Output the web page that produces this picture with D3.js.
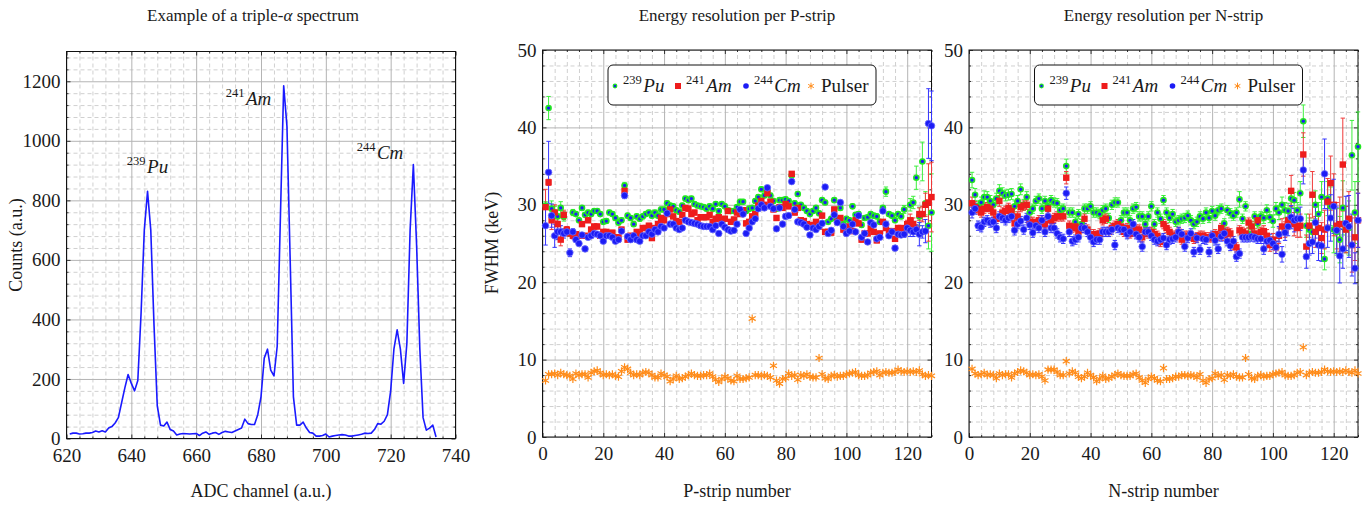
<!DOCTYPE html>
<html>
<head>
<meta charset="utf-8">
<script src="https://cdn.jsdelivr.net/npm/d3@7"></script>
<style>
body { margin: 0; background: #fff; }
text { font-family: "Liberation Serif", "DejaVu Serif", serif; fill: #1a1a1a; }
.minor-grid line { stroke: #d0d0d0; stroke-dasharray: 4,3; }
.major-grid line { stroke: #b4b4b4; }
.ticks line { stroke: #333; }
</style>
</head>
<body>
<script>
// ---- triple alpha spectrum ----
const channels = d3.range(621, 735)
const counts = [
  15, 18, 18, 15, 16, 18, 18, 20, 25, 22, 26, 22,
  35, 40, 52, 70, 120, 170, 215, 185, 160, 195, 420, 700, 830, 700, 380, 110,
  45, 42, 55, 30, 25, 12, 15, 17, 16, 15, 16, 17, 10, 18, 22, 14, 18, 20, 14, 20,
  24, 22, 20, 25, 30, 35, 65, 50, 47, 47, 80, 140, 270, 300, 230, 210, 310, 750,
  1185, 1050, 600, 140, 45, 45, 55, 35, 20, 18, 8, 8, 10, 15, 5, 8, 10, 12,
  13, 12, 8, 8, 10, 12, 14, 18, 17, 18, 30, 50, 48, 58, 80, 160, 300, 365,
  300, 185, 320, 700, 920, 650, 300, 70, 28, 35, 45, 5, 0, 0
]
const peakLabels = [
  { iso: "239", el: "Pu", ch: 638.6, c: 892 },
  { iso: "241", el: "Am", ch: 669.1, c: 1121 },
  { iso: "244", el: "Cm", ch: 709.5, c: 940 }
]

// ---- P-strip resolution (keV), strips 1..128 ----
const strips = d3.range(1, 129)
const puP = [
  29.9, 42.5, 29.5, 29.0, 28.5, 29.6, 28.5, 26.5, 26.3, 29.0,
  28.8, 28.0, 29.6, 28.7, 29.0, 28.8, 29.2, 29.2, 28.8, 27.8,
  27.9, 29.0, 28.8, 28.3, 27.7, 28.0, 32.5, 28.6, 28.3, 27.5,
  28.5, 28.2, 28.5, 28.8, 29.0, 28.6, 29.0, 28.6, 29.4, 29.4,
  30.2, 29.9, 29.8, 29.3, 29.1, 29.9, 30.8, 30.6, 30.8, 30.1,
  29.9, 29.8, 29.7, 29.5, 29.8, 29.5, 30.1, 29.2, 30.1, 29.8,
  29.3, 29.2, 29.2, 29.7, 30.4, 30.4, 29.2, 29.5, 29.6, 30.5,
  31.0, 32.0, 31.2, 31.8, 31.2, 30.5, 29.5, 30.6, 30.6, 30.7,
  30.5, 33.8, 30.2, 31.4, 30.0, 29.6, 29.2, 28.8, 29.2, 29.6,
  28.9, 30.6, 30.3, 27.8, 28.2, 30.6, 28.1, 29.6, 27.5, 28.2,
  28.0, 29.8, 28.7, 28.8, 27.4, 28.3, 28.4, 28.8, 28.6, 28.5,
  27.8, 29.6, 31.7, 28.8, 28.6, 28.0, 28.8, 28.5, 29.4, 27.2,
  30.0, 30.3, 33.5, 28.5, 35.6, 30.2, 27.3, 29.0
]
const amP = [
  29.7, 32.9, 28.0, 29.0, 27.5, 25.5, 28.7, 26.8, 26.3, 26.0,
  26.2, 26.0, 27.5, 26.0, 28.0, 26.8, 27.2, 27.2, 26.0, 26.5,
  26.5, 26.3, 26.4, 25.8, 25.8, 26.8, 31.8, 25.5, 26.0, 25.9,
  26.5, 26.2, 27.0, 27.0, 27.3, 25.7, 27.0, 27.5, 28.3, 28.0,
  28.8, 29.4, 28.5, 27.9, 27.8, 28.7, 29.6, 29.5, 28.8, 29.0,
  28.0, 28.4, 28.4, 28.4, 28.7, 27.8, 28.2, 28.4, 28.0, 28.2,
  29.2, 27.8, 28.1, 29.0, 28.8, 29.3, 27.6, 27.8, 28.5, 28.8,
  29.9, 30.5, 30.0, 31.5, 30.4, 29.4, 28.3, 29.7, 29.6, 30.1,
  29.8, 34.0, 29.0, 29.6, 28.0, 27.9, 27.5, 27.2, 27.4, 27.8,
  27.2, 28.6, 26.5, 26.5, 26.4, 29.4, 27.8, 28.3, 26.8, 26.6,
  27.2, 26.6, 28.0, 27.6, 25.5, 26.3, 26.3, 27.0, 26.5, 25.4,
  26.3, 27.8, 27.0, 26.6, 26.6, 25.6, 27.0, 27.0, 26.6, 27.5,
  28.0, 27.5, 26.8, 28.8, 28.8, 30.0, 30.3, 31.0
]
const cmP = [
  27.3, 34.2, 28.6, 26.0, 26.5, 26.5, 26.3, 26.5, 23.8, 26.5,
  25.5, 25.0, 26.1, 24.3, 25.8, 26.0, 26.3, 26.2, 26.0, 25.3,
  26.0, 26.0, 25.8, 25.3, 25.5, 26.6, 31.2, 25.9, 25.5, 26.0,
  25.5, 25.3, 26.0, 26.0, 26.5, 26.2, 26.8, 26.5, 27.2, 27.0,
  28.9, 27.5, 27.5, 27.0, 26.8, 27.0, 28.0, 27.8, 27.7, 27.6,
  27.5, 27.3, 27.2, 27.2, 27.2, 26.8, 27.3, 26.3, 27.5, 27.1,
  26.8, 26.6, 26.7, 27.5, 29.4, 28.8, 26.3, 27.0, 27.8, 28.2,
  29.5, 30.0, 29.6, 32.2, 29.8, 29.5, 26.9, 29.6, 27.5, 28.5,
  28.6, 33.0, 29.4, 27.8, 27.7, 27.5, 27.1, 26.1, 27.0, 26.8,
  27.2, 27.6, 32.3, 26.3, 26.7, 28.7, 27.7, 30.3, 27.2, 26.3,
  26.6, 27.5, 26.5, 28.6, 25.8, 26.3, 25.2, 27.7, 27.4, 25.6,
  25.8, 29.2, 27.5, 26.0, 26.5, 24.4, 26.2, 26.1, 26.2, 27.0,
  26.7, 26.5, 26.8, 26.2, 26.5, 26.6, 40.5, 40.2
]
const pulP = [
  7.3, 8.1, 8.1, 8.2, 8.0, 8.3, 8.1, 8.0, 7.9, 7.5,
  8.2, 8.0, 8.1, 8.1, 7.7, 8.3, 8.5, 8.6, 8.3, 8.0,
  8.1, 8.0, 8.1, 7.9, 7.8, 8.5, 9.0, 8.8, 8.3, 8.0,
  8.1, 8.0, 8.3, 8.4, 8.3, 8.0, 7.7, 7.7, 8.2, 8.0,
  7.8, 7.2, 7.5, 7.9, 7.5, 7.6, 7.8, 8.0, 8.2, 8.0,
  7.9, 7.9, 8.0, 8.0, 8.2, 7.8, 7.4, 7.1, 7.5, 7.8,
  7.6, 7.3, 7.2, 7.9, 7.5, 7.5, 7.6, 7.7, 15.3, 8.0,
  8.0, 7.9, 8.0, 7.9, 7.7, 9.2, 7.3, 6.9, 7.5, 7.6,
  8.2, 7.9, 8.0, 7.4, 8.0, 7.9, 8.1, 7.8, 7.7, 7.7,
  10.2, 8.1, 7.6, 7.5, 7.9, 8.0, 7.8, 7.9, 7.9, 8.1,
  8.2, 8.3, 8.4, 8.0, 7.9, 7.9, 8.0, 8.3, 8.4, 8.5,
  8.0, 8.3, 8.4, 8.3, 8.3, 8.4, 8.7, 8.5, 8.4, 8.5,
  8.4, 8.5, 8.4, 8.6, 8.1, 7.9, 8.0, 7.9
]
const errPuP = [
  0.5, 1.5, 1.0, 0.8, 0.8, 0.8, 0.6, 0.4, 0.4, 0.4, 0.3, 0.3, 0.3, 0.3, 0.3, 0.3,
  0.3, 0.3, 0.3, 0.3, 0.3, 0.3, 0.3, 0.3, 0.3, 0.3, 0.4, 0.3, 0.3, 0.3, 0.3, 0.3,
  0.3, 0.3, 0.3, 0.3, 0.3, 0.3, 0.3, 0.3, 0.3, 0.3, 0.3, 0.3, 0.3, 0.3, 0.3, 0.3,
  0.3, 0.3, 0.3, 0.3, 0.3, 0.3, 0.3, 0.3, 0.3, 0.3, 0.3, 0.3, 0.3, 0.3, 0.3, 0.3,
  0.3, 0.3, 0.3, 0.3, 0.3, 0.3, 0.3, 0.3, 0.3, 0.3, 0.3, 0.3, 0.3, 0.3, 0.3, 0.3,
  0.3, 0.3, 0.3, 0.3, 0.3, 0.3, 0.3, 0.3, 0.3, 0.3, 0.3, 0.3, 0.3, 0.3, 0.3, 0.3,
  0.3, 0.3, 0.3, 0.3, 0.3, 0.3, 0.3, 0.3, 0.3, 0.3, 0.3, 0.3, 0.3, 0.3, 0.3, 0.3,
  0.6, 0.3, 0.3, 0.3, 0.3, 0.3, 0.5, 0.6, 0.8, 0.8, 1.5, 1.2, 2.5, 1.5, 3.0, 5.0
]
const errAmP = [
  2.3, 0.4, 1.2, 1.0, 0.8, 0.8, 0.6, 0.4, 0.4, 0.4, 0.3, 0.3, 0.3, 0.3, 0.3, 0.3,
  0.3, 0.3, 0.3, 0.3, 0.3, 0.3, 0.3, 0.3, 0.3, 0.3, 0.4, 0.3, 0.3, 0.3, 0.3, 0.3,
  0.3, 0.3, 0.3, 0.3, 0.3, 0.3, 0.3, 0.3, 0.3, 0.3, 0.3, 0.3, 0.3, 0.3, 0.3, 0.3,
  0.3, 0.3, 0.3, 0.3, 0.3, 0.3, 0.3, 0.3, 0.3, 0.3, 0.3, 0.3, 0.3, 0.3, 0.3, 0.3,
  0.3, 0.3, 0.3, 0.3, 0.3, 0.3, 0.3, 0.3, 0.3, 0.3, 0.3, 0.3, 0.3, 0.3, 0.3, 0.3,
  0.3, 0.3, 0.3, 0.3, 0.3, 0.3, 0.3, 0.3, 0.3, 0.3, 0.3, 0.3, 0.3, 0.3, 0.3, 0.3,
  0.3, 0.3, 0.3, 0.3, 0.3, 0.3, 0.3, 0.3, 0.3, 0.3, 0.3, 0.3, 0.3, 0.3, 0.3, 0.3,
  0.3, 0.3, 0.3, 0.3, 0.3, 0.3, 0.4, 0.5, 0.8, 0.8, 0.6, 0.8, 1.0, 1.5, 5.0, 4.5
]
const errCmP = [
  2.5, 4.0, 1.5, 1.5, 1.0, 0.8, 0.6, 0.5, 0.5, 0.4, 0.3, 0.3, 0.3, 0.3, 0.3, 0.3,
  0.3, 0.3, 0.3, 0.3, 0.3, 0.3, 0.3, 0.3, 0.3, 0.3, 0.4, 0.3, 0.3, 0.3, 0.3, 0.3,
  0.3, 0.3, 0.3, 0.3, 0.3, 0.3, 0.3, 0.3, 0.3, 0.3, 0.3, 0.3, 0.3, 0.3, 0.3, 0.3,
  0.3, 0.3, 0.3, 0.3, 0.3, 0.3, 0.3, 0.3, 0.3, 0.3, 0.3, 0.3, 0.3, 0.3, 0.3, 0.3,
  0.3, 0.3, 0.3, 0.3, 0.3, 0.3, 0.3, 0.3, 0.3, 0.3, 0.3, 0.3, 0.3, 0.3, 0.3, 0.3,
  0.3, 0.3, 0.3, 0.3, 0.3, 0.3, 0.3, 0.3, 0.3, 0.3, 0.3, 0.3, 0.3, 0.3, 0.3, 0.3,
  0.3, 0.3, 0.3, 0.3, 0.3, 0.3, 0.3, 0.3, 0.3, 0.3, 0.3, 0.3, 0.3, 0.3, 0.3, 0.3,
  0.3, 0.3, 0.3, 0.3, 0.3, 0.3, 0.4, 0.5, 0.8, 0.6, 0.6, 1.5, 0.8, 1.5, 4.5, 4.5
]

// ---- N-strip resolution (keV) ----
const puN = [
  33.2, 31.3, 29.8, 30.3, 31.0, 31.0, 30.5, 30.0, 30.8, 31.8,
  31.5, 31.2, 31.3, 31.4, 29.8, 30.5, 32.0, 30.0, 31.0, 29.0,
  29.5, 30.5, 30.8, 29.5, 30.5, 29.8, 30.6, 30.3, 30.2, 29.3,
  29.5, 35.0, 29.0, 29.0, 27.8, 28.8, 27.5, 29.5, 29.5, 29.8,
  29.0, 29.0, 28.8, 29.3, 29.5, 28.3, 30.0, 30.3, 30.3, 28.0,
  29.0, 29.0, 28.0, 29.5, 29.7, 28.5, 28.5, 27.5, 28.5, 29.8,
  27.5, 29.0, 28.2, 30.6, 29.0, 28.3, 28.8, 27.8, 28.0, 28.2,
  28.3, 28.6, 28.0, 27.5, 27.8, 28.5, 28.2, 29.0, 28.3, 29.2,
  28.6, 29.3, 29.5, 27.6, 29.3, 28.9, 28.6, 29.0, 30.7, 28.2,
  29.8, 26.2, 27.2, 28.5, 27.6, 28.5, 28.3, 29.3, 28.4, 27.9,
  29.5, 29.0, 30.0, 29.3, 29.2, 30.8, 30.6, 29.3, 31.5, 40.8,
  27.3, 26.8, 26.5, 30.0, 28.8, 31.0, 23.0, 30.8, 29.8, 26.8,
  26.5, 25.5, 29.6, 26.8, 27.0, 36.4, 29.0, 37.5
]
const amN = [
  30.2, 29.7, 29.4, 29.0, 29.5, 29.7, 29.5, 29.0, 28.2, 30.5,
  29.0, 29.2, 29.6, 29.2, 27.6, 28.5, 29.7, 29.9, 30.0, 27.8,
  27.8, 27.5, 28.0, 28.0, 27.5, 29.5, 28.0, 28.3, 28.5, 28.5,
  28.5, 33.5, 27.3, 27.0, 27.2, 26.5, 27.0, 28.2, 26.8, 26.2,
  26.2, 26.0, 26.3, 28.0, 28.2, 26.5, 27.0, 27.3, 27.5, 27.2,
  26.5, 27.0, 26.3, 26.5, 26.8, 26.8, 25.8, 26.5, 26.3, 26.5,
  26.2, 26.0, 25.2, 27.5, 27.0, 26.5, 26.0, 26.0, 26.5, 25.5,
  26.0, 26.0, 26.0, 25.6, 25.8, 26.0, 26.0, 25.8, 25.8, 25.8,
  26.2, 26.0, 27.0, 26.0, 26.5, 26.3, 24.8, 24.5, 26.7, 26.5,
  26.3, 27.7, 27.2, 26.3, 28.0, 26.5, 26.6, 26.0, 24.8, 25.5,
  24.5, 26.0, 27.2, 26.8, 28.0, 31.8, 27.5, 27.0, 27.3, 36.5,
  24.6, 27.3, 31.3, 26.5, 27.0, 25.7, 26.8, 30.4, 32.8, 30.0,
  27.3, 27.5, 35.2, 26.8, 28.2, 24.8, 25.8, 28.0
]
const cmN = [
  29.0, 29.5, 27.3, 27.1, 27.8, 28.0, 27.7, 27.8, 27.0, 28.5,
  28.3, 28.0, 28.3, 28.5, 26.7, 27.5, 27.9, 26.8, 28.3, 27.4,
  26.4, 27.3, 27.0, 28.0, 26.5, 28.5, 27.0, 27.0, 26.3, 25.8,
  25.6, 31.5, 26.5, 25.3, 25.5, 25.8, 27.0, 27.0, 26.5, 25.8,
  25.2, 25.5, 25.5, 26.5, 26.5, 26.5, 26.8, 24.8, 27.0, 26.8,
  26.8, 26.2, 26.5, 27.5, 26.2, 25.8, 24.6, 26.5, 26.5, 26.0,
  25.5, 25.3, 25.5, 25.7, 24.8, 25.5, 25.6, 25.8, 26.5, 26.2,
  24.6, 25.7, 26.3, 23.9, 25.7, 24.2, 25.6, 25.5, 23.9, 26.0,
  25.4, 24.3, 25.9, 26.3, 25.3, 24.7, 25.3, 23.3, 23.7, 25.8,
  25.8, 25.8, 25.9, 25.8, 25.6, 25.6, 24.3, 25.3, 25.4, 25.0,
  24.5, 26.2, 23.6, 26.4, 27.2, 28.4, 28.0, 28.2, 28.2, 34.5,
  23.3, 25.0, 25.2, 27.7, 24.8, 24.7, 34.0, 27.0, 28.3, 29.8,
  26.7, 23.4, 24.3, 27.6, 27.2, 24.8, 21.8, 28.0
]
const pulN = [
  8.8, 8.2, 8.0, 8.1, 8.3, 8.0, 8.1, 8.0, 7.6, 8.2,
  8.0, 8.1, 8.1, 7.7, 8.2, 8.4, 8.6, 8.5, 8.3, 8.0,
  8.1, 8.0, 8.1, 7.8, 7.3, 8.7, 8.7, 8.7, 8.4, 8.0,
  8.0, 9.8, 8.2, 8.5, 8.3, 7.8, 7.6, 7.8, 8.3, 8.0,
  7.7, 7.2, 7.5, 7.9, 7.5, 7.6, 7.8, 8.0, 8.2, 8.0,
  7.9, 7.9, 7.9, 8.1, 8.2, 7.7, 7.3, 7.0, 7.5, 7.8,
  7.6, 7.3, 7.2, 8.9, 7.5, 7.5, 7.6, 7.8, 7.8, 8.0,
  8.0, 7.9, 8.0, 7.9, 7.7, 8.1, 7.3, 7.0, 7.5, 7.6,
  8.2, 7.9, 8.0, 7.4, 8.0, 7.9, 8.1, 7.8, 7.7, 7.7,
  10.2, 8.1, 7.6, 7.5, 7.9, 8.0, 7.8, 7.9, 7.9, 8.1,
  8.2, 8.3, 8.4, 8.0, 7.9, 7.9, 8.0, 8.3, 8.4, 11.6,
  8.0, 8.3, 8.4, 8.3, 8.3, 8.4, 8.7, 8.5, 8.4, 8.5,
  8.4, 8.5, 8.4, 8.6, 8.4, 8.3, 8.6, 8.2
]
const errPuN = [
  1.0, 0.8, 0.7, 0.7, 0.8, 0.7, 0.7, 0.7, 0.7, 0.8, 0.7, 0.7, 0.7, 0.7, 0.7, 0.7,
  0.7, 0.7, 0.7, 0.6, 0.6, 0.6, 0.6, 0.6, 0.6, 0.6, 0.6, 0.6, 0.6, 0.6, 0.6, 0.9,
  0.6, 0.6, 0.6, 0.6, 0.6, 0.6, 0.6, 0.6, 0.6, 0.6, 0.6, 0.6, 0.6, 0.6, 0.6, 0.6,
  0.6, 0.6, 0.6, 0.6, 0.6, 0.6, 0.6, 0.6, 0.6, 0.6, 0.6, 0.6, 0.6, 0.6, 0.6, 0.6,
  0.6, 0.6, 0.6, 0.6, 0.6, 0.6, 0.6, 0.6, 0.6, 0.6, 0.6, 0.6, 0.6, 0.6, 0.6, 0.6,
  0.6, 0.6, 0.6, 0.6, 0.6, 0.6, 0.6, 0.6, 1.0, 0.6, 0.6, 0.8, 0.6, 0.6, 0.6, 0.6,
  0.7, 0.7, 0.7, 0.8, 0.8, 0.9, 1.0, 1.0, 1.0, 1.2, 1.0, 1.0, 1.5, 2.1, 1.5, 1.5,
  1.5, 1.8, 1.5, 2.0, 1.4, 2.2, 2.5, 3.0, 3.0, 3.0, 3.5, 3.0, 3.5, 4.5, 4.0, 4.5
]
const errAmN = [
  0.8, 0.7, 0.6, 0.6, 0.6, 0.6, 0.6, 0.6, 0.6, 0.7, 0.6, 0.6, 0.6, 0.6, 0.6, 0.6,
  0.6, 0.6, 0.6, 0.6, 0.6, 0.6, 0.6, 0.6, 0.6, 0.6, 0.6, 0.6, 0.6, 0.6, 0.6, 0.8,
  0.6, 0.6, 0.6, 0.6, 0.6, 0.6, 0.6, 0.6, 0.6, 0.6, 0.6, 0.6, 0.6, 0.6, 0.6, 0.6,
  0.6, 0.6, 0.6, 0.6, 0.6, 0.6, 0.6, 0.6, 0.6, 0.6, 0.6, 0.6, 0.6, 0.6, 0.6, 0.6,
  0.6, 0.6, 0.6, 0.6, 0.6, 0.6, 0.6, 0.6, 0.6, 0.6, 0.6, 0.6, 0.6, 0.6, 0.6, 0.6,
  0.6, 0.6, 0.6, 0.6, 0.6, 0.6, 0.6, 0.6, 0.6, 0.6, 0.6, 0.6, 0.6, 0.6, 0.6, 0.6,
  0.7, 0.8, 0.8, 0.8, 0.8, 1.0, 1.0, 1.0, 1.2, 2.0, 1.5, 1.2, 1.5, 2.8, 1.5, 1.5,
  3.0, 2.0, 2.0, 2.0, 2.5, 3.0, 3.5, 4.0, 3.0, 3.5, 6.0, 3.0, 3.5, 3.5, 3.0, 3.5
]
const errCmN = [
  0.7, 0.7, 0.6, 0.6, 0.6, 0.6, 0.6, 0.6, 0.6, 0.6, 0.6, 0.6, 0.6, 0.6, 0.6, 0.6,
  0.6, 0.6, 0.6, 0.6, 0.6, 0.6, 0.6, 0.6, 0.6, 0.6, 0.6, 0.6, 0.6, 0.6, 0.6, 0.8,
  0.6, 0.6, 0.6, 0.6, 0.6, 0.6, 0.6, 0.6, 0.6, 0.6, 0.6, 0.6, 0.6, 0.6, 0.6, 0.6,
  0.6, 0.6, 0.6, 0.6, 0.6, 0.6, 0.6, 0.6, 0.6, 0.6, 0.6, 0.6, 0.6, 0.6, 0.6, 0.6,
  0.6, 0.6, 0.6, 0.6, 0.6, 0.6, 0.6, 0.6, 0.6, 0.6, 0.6, 0.6, 0.6, 0.6, 0.6, 0.6,
  0.6, 0.6, 0.6, 0.6, 0.6, 0.6, 0.6, 0.6, 0.6, 0.6, 0.6, 0.6, 0.6, 0.6, 0.6, 0.6,
  0.7, 0.8, 0.8, 0.8, 0.8, 1.0, 1.0, 1.0, 1.2, 1.5, 1.5, 1.2, 1.5, 1.8, 1.5, 1.5,
  1.5, 2.0, 2.0, 2.0, 4.5, 2.5, 3.0, 3.5, 3.0, 3.5, 2.5, 3.5, 4.0, 4.0, 2.0, 3.5
]

const colPu = "#22e622", colAm = "#ee1c1c", colCm = "#1c1cf5", colPul = "#ff8c1a"

var width = 1368
var height = 506

var svg = d3.select("body").append("svg")
  .attr("width", width)
  .attr("height", height)

const makePanel = (left, top, w, h, xDomain, yDomain) => {
  const g = svg.append("g")
  const x = d3.scaleLinear().domain(xDomain).range([left, left + w])
  const y = d3.scaleLinear().domain(yDomain).range([top + h, top])
  return { g, x, y, left, top, w, h }
}

// grid, inward ticks on all four sides, frame
const drawFrame = (p, xMajor, yMajor, xMinor, yMinor) => {
  const { g, x, y, left, top, w, h } = p
  const bottom = top + h, right = left + w
  const fmt = d3.format("d")

  const mg = g.append("g").attr("class", "minor-grid")
  mg.append("g").attr("transform", `translate(0,${bottom})`)
    .call(d3.axisBottom(x).tickValues(xMinor).tickSize(-h).tickFormat(""))
  mg.append("g").attr("transform", `translate(${left},0)`)
    .call(d3.axisLeft(y).tickValues(yMinor).tickSize(-w).tickFormat(""))
  const Mg = g.append("g").attr("class", "major-grid")
  Mg.append("g").attr("transform", `translate(0,${bottom})`)
    .call(d3.axisBottom(x).tickValues(xMajor).tickSize(-h).tickFormat(""))
  Mg.append("g").attr("transform", `translate(${left},0)`)
    .call(d3.axisLeft(y).tickValues(yMajor).tickSize(-w).tickFormat(""))
  g.selectAll(".minor-grid path, .major-grid path").remove()

  const t = g.append("g").attr("class", "ticks")
  t.append("g").attr("transform", `translate(0,${bottom})`)
    .call(d3.axisBottom(x).tickValues(xMajor).tickSize(-4).tickPadding(10).tickFormat(fmt))
  t.append("g").attr("transform", `translate(0,${bottom})`)
    .call(d3.axisBottom(x).tickValues(xMinor).tickSize(-2).tickFormat(""))
  t.append("g").attr("transform", `translate(0,${top})`)
    .call(d3.axisTop(x).tickValues(xMajor).tickSize(-4).tickFormat(""))
  t.append("g").attr("transform", `translate(0,${top})`)
    .call(d3.axisTop(x).tickValues(xMinor).tickSize(-2).tickFormat(""))
  t.append("g").attr("transform", `translate(${left},0)`)
    .call(d3.axisLeft(y).tickValues(yMajor).tickSize(-4).tickPadding(6).tickFormat(fmt))
  t.append("g").attr("transform", `translate(${left},0)`)
    .call(d3.axisLeft(y).tickValues(yMinor).tickSize(-2).tickFormat(""))
  t.append("g").attr("transform", `translate(${right},0)`)
    .call(d3.axisRight(y).tickValues(yMajor).tickSize(-4).tickFormat(""))
  t.append("g").attr("transform", `translate(${right},0)`)
    .call(d3.axisRight(y).tickValues(yMinor).tickSize(-2).tickFormat(""))
  t.selectAll("path").remove()
  t.selectAll("g").attr("font-family", null).attr("font-size", null)
  t.selectAll("text").attr("fill", "#1a1a1a").style("font-size", "19px")

  g.append("rect").attr("x", left).attr("y", top).attr("width", w).attr("height", h)
    .attr("fill", "none").attr("stroke", "#111").attr("stroke-width", 1)
}

const minorOf = (lo, hi, step, major) =>
  d3.range(lo, hi + 0.001, step).filter(v => major.indexOf(v) < 0)

const title = (x, txt) => svg.append("text").attr("x", x).attr("y", 21)
  .attr("text-anchor", "middle").style("font-size", "17px").text(txt)

const xLabel = (x, txt) => svg.append("text").attr("x", x).attr("y", 497)
  .attr("text-anchor", "middle").style("font-size", "18px").text(txt)

const yLabel = (x, yc, txt) => svg.append("text")
  .attr("transform", `translate(${x},${yc}) rotate(-90)`)
  .attr("text-anchor", "middle").style("font-size", "18px").text(txt)

const isoText = (sel, iso, el, big) => {
  sel.append("tspan").style("font-size", (big * 0.66) + "px").attr("dy", -big * 0.42).text(iso)
  sel.append("tspan").style("font-size", big + "px").attr("font-style", "italic")
    .attr("dy", big * 0.42).attr("dx", 1.5).text(el)
}

const starPath = d3.symbol(d3.symbolAsterisk || d3.symbolCross, 46)

const puMark = (g, cx, cy, r) => {
  g.append("circle").attr("cx", cx).attr("cy", cy).attr("r", r).attr("fill", colPu)
  g.append("circle").attr("cx", cx).attr("cy", cy).attr("r", r * 0.5).attr("fill", colCm)
}

// ---------- left: spectrum ----------
{
  const p = makePanel(66.5, 51.5, 389, 387, [620, 740], [0, 1300])
  const xMaj = d3.range(620, 741, 20), yMaj = d3.range(0, 1201, 200)
  drawFrame(p, xMaj, yMaj, minorOf(620, 740, 4, xMaj), minorOf(0, 1300, 40, yMaj))

  const line = d3.line().x((d, i) => p.x(channels[i])).y(d => p.y(d))
  p.g.append("path").datum(counts).attr("d", line)
    .attr("fill", "none").attr("stroke", "#1a1aff").attr("stroke-width", 1.6)
    .attr("stroke-linejoin", "round")

  peakLabels.forEach(l => {
    const t = p.g.append("text").attr("x", p.x(l.ch)).attr("y", p.y(l.c))
    isoText(t, l.iso, l.el, 19)
  })

  title(253, "")
    .call(s => {
      s.append("tspan").text("Example of a triple-")
      s.append("tspan").attr("font-style", "italic").text("α")
      s.append("tspan").text(" spectrum")
    })
  xLabel(261, "ADC channel (a.u.)")
  yLabel(22, 245, "Counts (a.u.)")
}

// ---------- strip panels ----------
const stripPanel = (left, pu, am, cm, pul, ePu, eAm, eCm, name) => {
  const p = makePanel(left, 50, 389, 387, [0, 128], [0, 50])
  const xMaj = d3.range(0, 121, 20), yMaj = d3.range(0, 51, 10)
  drawFrame(p, xMaj, yMaj, minorOf(0, 128, 4, xMaj), minorOf(0, 50, 2, yMaj))

  const series = [
    { v: pu, e: ePu, col: "#3cef3c" },
    { v: am, e: eAm, col: "#f03a3a" },
    { v: cm, e: eCm, col: "#3535ff" }
  ]
  series.forEach(s => {
    const rows = strips.map((st, i) => ({ st, v: s.v[i], e: s.e[i] }))
    const eg = p.g.append("g").attr("stroke", s.col).attr("stroke-width", 1).attr("fill", "none")
    eg.selectAll("path").data(rows).enter().append("path")
      .attr("d", d => {
        const cx = p.x(d.st), y1 = p.y(d.v + d.e), y2 = p.y(d.v - d.e)
        return `M${cx},${y1}V${y2}M${cx - 2.2},${y1}H${cx + 2.2}M${cx - 2.2},${y2}H${cx + 2.2}`
      })
  })

  const gPu = p.g.append("g")
  strips.forEach((st, i) => puMark(gPu, p.x(st), p.y(pu[i]), 3.3))

  p.g.append("g").selectAll("rect").data(strips).enter().append("rect")
    .attr("x", d => p.x(d) - 3.2).attr("y", (d, i) => p.y(am[i]) - 3.2)
    .attr("width", 6.4).attr("height", 6.4).attr("fill", colAm)

  p.g.append("g").selectAll("circle").data(strips).enter().append("circle")
    .attr("cx", d => p.x(d)).attr("cy", (d, i) => p.y(cm[i])).attr("r", 3.3)
    .attr("fill", colCm).attr("stroke", "#6b6bff").attr("stroke-width", 0.8)

  p.g.append("g").selectAll("path").data(strips).enter().append("path")
    .attr("d", starPath)
    .attr("transform", (d, i) => `translate(${p.x(d)},${p.y(pul[i])})`)
    .attr("fill", "none").attr("stroke", colPul).attr("stroke-width", 1.2)

  // legend
  const bx = left + 65.5, by = 65
  const lg = p.g.append("g")
  lg.append("rect").attr("x", bx).attr("y", by).attr("width", 268).attr("height", 40)
    .attr("rx", 5).attr("fill", "#fff").attr("stroke", "#111").attr("stroke-width", 1)
  const cy = by + 21
  puMark(lg, bx + 7, cy, 2.4)
  isoText(lg.append("text").attr("x", bx + 15).attr("y", by + 27), "239", "Pu", 19)
  lg.append("rect").attr("x", bx + 67).attr("y", cy - 3).attr("width", 6).attr("height", 6).attr("fill", colAm)
  isoText(lg.append("text").attr("x", bx + 78).attr("y", by + 27), "241", "Am", 19)
  lg.append("circle").attr("cx", bx + 138).attr("cy", cy).attr("r", 2.8).attr("fill", colCm)
  isoText(lg.append("text").attr("x", bx + 146).attr("y", by + 27), "244", "Cm", 19)
  lg.append("path").attr("d", d3.symbol(d3.symbolAsterisk || d3.symbolCross, 30))
    .attr("transform", `translate(${bx + 203},${cy})`)
    .attr("fill", "none").attr("stroke", colPul).attr("stroke-width", 1)
  lg.append("text").attr("x", bx + 213).attr("y", by + 27).style("font-size", "19px").text("Pulser")

  title(left + 194.5, `Energy resolution per ${name}-strip`)
  xLabel(left + 194.5, `${name}-strip number`)
}

stripPanel(542.5, puP, amP, cmP, pulP, errPuP, errAmP, errCmP, "P")
stripPanel(969, puN, amN, cmN, pulN, errPuN, errAmN, errCmN, "N")
yLabel(498, 243, "FWHM (keV)")
</script>
</body>
</html>
